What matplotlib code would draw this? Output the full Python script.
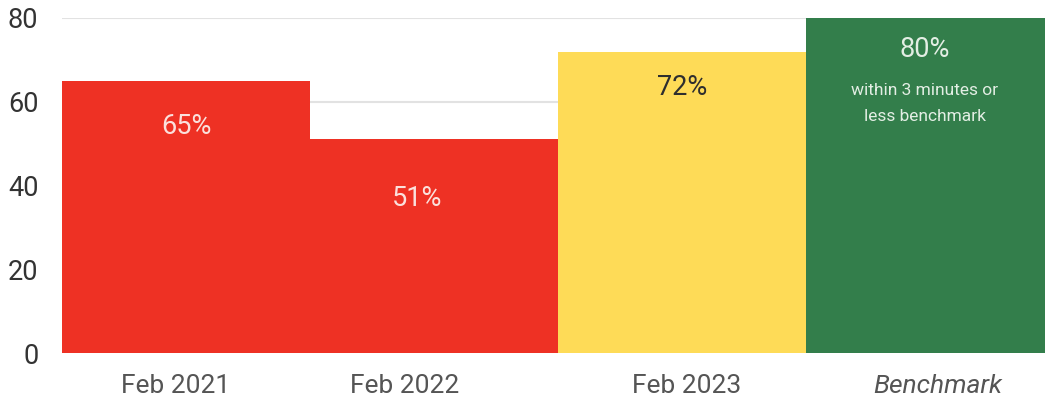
import matplotlib
matplotlib.use("Agg")
import matplotlib.pyplot as plt

categories = ["Feb 2021", "Feb 2022", "Feb 2023", "Benchmark"]
values = [65, 51, 72, 80]
value_labels = ["65%", "51%", "72%", "80%"]
benchmark_note = "within 3 minutes or\nless benchmark"
y_ticks = [0, 20, 40, 60, 80]

bar_colors = ["#EE3124", "#EE3124", "#FEDB57", "#337E4B"]
text_colors = ["#FBE0DC", "#FBE0DC", "#2E2E2E", "#E3EEE4"]
label_drop = [11, 14, 8.5, 7.5]
label_nudge = [0.0, -0.07, 0.0, -0.02]
tick_nudge = [-0.04, -0.12, 0.02, 0.03]

plt.rcParams["font.family"] = ["Roboto", "DejaVu Sans"]

fig = plt.figure(figsize=(10.45, 4.04), dpi=100)
ax = fig.add_axes([62 / 1045, 51 / 404, 992 / 1045, 335 / 404])

x = list(range(len(categories)))
ax.bar(x, values, width=1.0, color=bar_colors, zorder=3, linewidth=0)

for xi, v, lab, tc, d, n in zip(x, values, value_labels, text_colors,
                                label_drop, label_nudge):
    ax.text(xi + n, v - d, lab, ha="center", va="center", color=tc,
            fontsize=19.5, zorder=4)

ax.text(x[-1] - 0.02, values[-1] - 20.5, benchmark_note, ha="center",
        va="center", color=text_colors[-1], fontsize=12.5, linespacing=1.9,
        zorder=4)

ax.set_xlim(-0.5, len(categories) - 0.5)
ax.set_ylim(0, 80)
ax.set_yticks(y_ticks)
ax.set_yticklabels([str(t) for t in y_ticks], fontsize=19.5, color="#333333")
ax.yaxis.grid(True, color="#E2E2E2", linewidth=1.5, zorder=0)
ax.axhline(0, color="#C8C8C8", linewidth=1.5, zorder=2)

ax.set_xticks([xi + n for xi, n in zip(x, tick_nudge)])
ax.set_xticklabels(categories, fontsize=19, color="#555555")
ax.get_xticklabels()[-1].set_style("italic")

ax.tick_params(axis="y", length=0, pad=17)
ax.tick_params(axis="x", length=0, pad=15)
for s in ax.spines.values():
    s.set_visible(False)

fig.savefig("out.png", dpi=100)
